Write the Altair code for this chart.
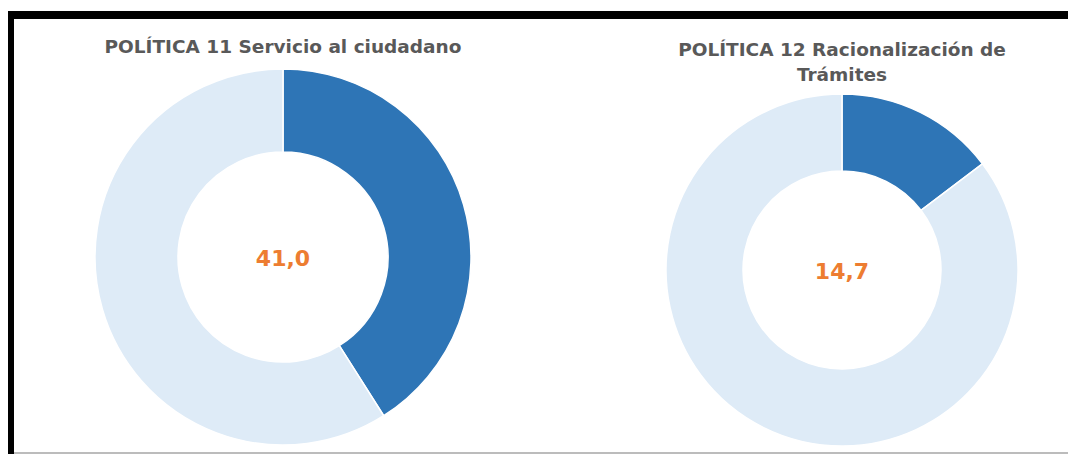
import altair as alt
import pandas as pd

# ---- data ----
politicas = [
    "POLÍTICA 11 Servicio al ciudadano",
    "POLÍTICA 12 Racionalización de\nTrámites",
]
avance = [41.0, 14.7]
segmentos = ["Avance", "Pendiente"]
colores = ["#2E75B6", "#DEEBF7"]

# ---- tables built from the arrays ----
filas = []
for p, v in zip(politicas, avance):
    filas.append({"politica": p, "segmento": segmentos[0], "valor": v, "orden": 1})
    filas.append({"politica": p, "segmento": segmentos[1], "valor": round(100 - v, 1), "orden": 2})
df_arcos = pd.DataFrame(filas)

df_etq = pd.DataFrame({
    "politica": politicas,
    "valor": avance,
    "etiqueta": [f"{v:.1f}".replace(".", ",") for v in avance],
})

W, H = 1060, 446

x_enc = alt.X("politica:N", scale=alt.Scale(type="point", domain=politicas, range=[275, 834], padding=0), axis=None)
y_enc = alt.Y("politica:N", scale=alt.Scale(type="point", domain=politicas, range=[249, 262], padding=0), axis=None)

def dona(idx, r_ext, r_int):
    return alt.Chart(df_arcos).transform_filter(
        alt.datum.politica == politicas[idx]
    ).mark_arc(outerRadius=r_ext, innerRadius=r_int, stroke="white", strokeWidth=1.5).encode(
        x=x_enc,
        y=y_enc,
        theta=alt.Theta("valor:Q", stack=True),
        order=alt.Order("orden:Q"),
        color=alt.Color("segmento:N", scale=alt.Scale(domain=segmentos, range=colores), legend=None),
    )

def titulo(idx, dy):
    return alt.Chart(df_etq).transform_filter(
        alt.datum.politica == politicas[idx]
    ).mark_text(
        font="DejaVu Sans", fontSize=18.5, fontWeight="bold", color="#595959",
        align="center", baseline="middle", dy=dy, lineBreak="\n", lineHeight=25,
    ).encode(x=x_enc, y=y_enc, text="politica:N")

etiquetas = alt.Chart(df_etq).mark_text(
    font="DejaVu Sans", fontSize=22, fontWeight="bold", color="#ED7D31",
    align="center", baseline="middle", dy=2,
).encode(x=x_enc, y=y_enc, text="etiqueta:N")

marco_df = pd.DataFrame({"k": [0]})
borde_sup = alt.Chart(marco_df).mark_rule(color="black", strokeWidth=8).encode(
    x=alt.value(0), x2=alt.value(W), y=alt.value(7))
borde_izq = alt.Chart(marco_df).mark_rule(color="black", strokeWidth=8).encode(
    x=alt.value(2), y=alt.value(3), y2=alt.value(H))
borde_inf = alt.Chart(marco_df).mark_rule(color="#A6A6A6", strokeWidth=1.5).encode(
    x=alt.value(6), x2=alt.value(W), y=alt.value(H - 1))

chart = alt.layer(
    dona(0, 188, 105),
    dona(1, 176, 99),
    titulo(0, -210),
    titulo(1, -220),
    etiquetas,
    borde_sup, borde_izq, borde_inf,
).properties(
    width=W, height=H, padding=0, autosize=alt.AutoSizeParams(type="none"),
    background="white",
).configure_view(stroke=None)

chart.save("out.html", embed_options={"renderer": "svg", "actions": False})
